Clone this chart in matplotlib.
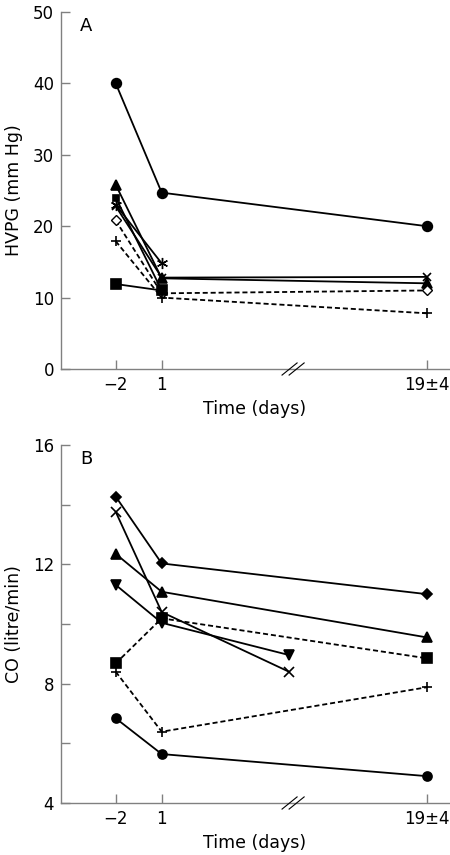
import matplotlib
matplotlib.use("Agg")
import matplotlib.pyplot as plt
import matplotlib.transforms as mtransforms

plt.rcParams['font.family'] = ['DejaVu Sans']

# x positions on the broken axis and their labels
time_pos = [-2, 1, 18.3]
time_labels = ['\u22122', '1', '19\u00b14']
late_pos = 9.3          # position of the last follow-up for two patients in panel B
break_pos = 9.57        # position of the axis break mark

# Panel A: HVPG (mm Hg)
hvpg_circle = [40, 24.7, 20]
hvpg_triangle = [25.8, 12.7, 12]
hvpg_square_small = [24, 11]
hvpg_star = [23, 14.8]
hvpg_cross = [22.8, 12.8, 12.9]
hvpg_diamond_open = [20.8, 10.6, 11.0]
hvpg_plus = [17.9, 10.0, 7.8]
hvpg_square = [11.9, 11.0]

# Panel B: CO (litre/min)
co_diamond = [14.27, 12.03, 11.0]
co_cross = [13.76, 10.4, 8.4]
co_triangle = [12.35, 11.08, 9.55]
co_tri_down = [11.31, 10.04, 8.96]
co_square = [8.68, 10.19, 8.85]
co_plus = [8.4, 6.39, 7.88]
co_circle = [6.84, 5.64, 4.9]

fig = plt.figure(figsize=(4.5, 8.55), dpi=100)
axA = fig.add_axes([61/450, 1-369/855, 388/450, 357/855])
axB = fig.add_axes([61/450, 1-803/855, 388/450, 358/855])

lw = 1.3
spine_col = '#808080'


def ln(ax, xs, ys, marker, ms, dashed=False, mfc='black', mew=1.2):
    kw = dict(color='black', lw=lw, marker=marker, ms=ms, mfc=mfc, mec='black',
              mew=mew, clip_on=False, zorder=3)
    if dashed:
        kw['ls'] = (0, (2.8, 1.6))
    ax.plot(xs, ys, **kw)


# Panel A
ln(axA, time_pos, hvpg_circle, 'o', 7)
ln(axA, time_pos, hvpg_triangle, '^', 7)
ln(axA, time_pos[:2], hvpg_square_small, 's', 4.5)
ln(axA, time_pos[:2], hvpg_star, (6, 2, 0), 8, mew=1.0)
ln(axA, time_pos, hvpg_cross, 'x', 6, mew=1.2)
ln(axA, time_pos, hvpg_diamond_open, 'D', 5, dashed=True, mfc='white', mew=1.0)
ln(axA, time_pos, hvpg_plus, '+', 7, dashed=True, mew=1.2)
ln(axA, time_pos[:2], hvpg_square, 's', 7)

# Panel B
xs_late = [time_pos[0], time_pos[1], late_pos]
ln(axB, time_pos, co_diamond, 'D', 5.5)
ln(axB, xs_late, co_cross, 'x', 6.5, mew=1.2)
ln(axB, time_pos, co_triangle, '^', 7)
ln(axB, xs_late, co_tri_down, 'v', 7)
ln(axB, time_pos, co_square, 's', 6.5, dashed=True)
ln(axB, time_pos, co_plus, '+', 7, dashed=True, mew=1.2)
ln(axB, time_pos, co_circle, 'o', 6.5)

for ax in (axA, axB):
    ax.set_xlim(-5.57, 19.74)
    for s in ('top', 'right'):
        ax.spines[s].set_visible(False)
    for s in ('left', 'bottom'):
        ax.spines[s].set_color(spine_col)
        ax.spines[s].set_linewidth(1.0)
    ax.set_xticks(time_pos)
    ax.set_xticklabels(time_labels)
    ax.tick_params(axis='both', which='both', direction='in', color=spine_col,
                   width=1.0, labelsize=12, pad=5)
    ax.tick_params(axis='both', which='major', length=6.5)
    ax.tick_params(axis='y', which='minor', length=6.5)
    ax.set_xlabel('Time (days)', fontsize=12.5, labelpad=4)
    # axis break mark
    trans = mtransforms.blended_transform_factory(ax.transData, ax.transAxes)
    for off in (-0.23, 0.23):
        ax.plot([break_pos + off - 0.49, break_pos + off + 0.49], [-0.017, 0.017],
                color='black', lw=0.8, transform=trans, clip_on=False, zorder=4)

axA.set_ylim(0, 50)
axA.set_yticks([0, 10, 20, 30, 40, 50])
axA.set_ylabel('HVPG (mm Hg)', fontsize=12.5)
axA.yaxis.set_label_coords(-0.097, 0.5)

axB.set_ylim(4, 16)
axB.set_yticks([4, 8, 12, 16])
axB.set_yticks([6, 10, 14], minor=True)
axB.set_ylabel('CO (litre/min)', fontsize=12.5)
axB.yaxis.set_label_coords(-0.097, 0.5)

axA.text(0.048, 0.985, 'A', transform=axA.transAxes, fontsize=13, va='top')
axB.text(0.05, 0.985, 'B', transform=axB.transAxes, fontsize=13, va='top')

fig.savefig('out.png', dpi=100)
